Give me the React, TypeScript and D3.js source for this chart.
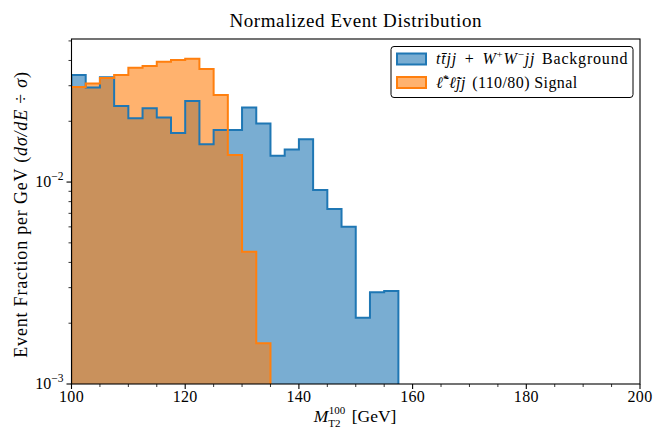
import * as d3 from "d3";

// bin left edges (GeV), bin width 2.5
const bgEdges = [100, 102.5, 105, 107.5, 110, 112.5, 115, 117.5, 120, 122.5, 125, 127.5, 130, 132.5, 135, 137.5, 140, 142.5, 145, 147.5, 150, 152.5, 155];
const bgValues = [0.0339, 0.0294, 0.033, 0.0238, 0.0207, 0.0232, 0.0209, 0.0175, 0.0252, 0.0154, 0.0181, 0.0181, 0.0234, 0.0195, 0.0135, 0.0145, 0.0163, 0.00913, 0.00735, 0.00601, 0.00213, 0.00285, 0.00289];
const sigEdges = [100, 102.5, 105, 107.5, 110, 112.5, 115, 117.5, 120, 122.5, 125, 127.5, 130, 132.5];
const sigValues = [0.0296, 0.0308, 0.0328, 0.0339, 0.0368, 0.0376, 0.0394, 0.0402, 0.0408, 0.0363, 0.027, 0.0136, 0.00452, 0.00159];
const binWidth = 2.5;

const xMajor = [100, 120, 140, 160, 180, 200];
const xMinor = [105, 110, 115, 125, 130, 135, 145, 150, 155, 165, 170, 175, 185, 190, 195];
const yMajor = [{ v: 0.001, exp: "−3" }, { v: 0.01, exp: "−2" }];
const yMinor = [0.002, 0.003, 0.004, 0.005, 0.006, 0.007, 0.008, 0.009, 0.02, 0.03, 0.04, 0.05];

const W = 664;
const H = 443;
const margin = { top: 39, right: 24, bottom: 59, left: 71.5 };
const FONT = "'Liberation Serif', 'Times New Roman', serif";

const BLUE = "#1f77b4";
const ORANGE = "#ff7f0e";

export default function App() {
    const x = d3.scaleLinear().domain([100, 200]).range([margin.left, W - margin.right]);
    const y = d3.scaleLog().domain([0.001, 0.0511]).range([H - margin.bottom, margin.top]);

    // step outline closed down to the axis floor
    const stepPoints = (edges: number[], values: number[]) => {
        const pts: [number, number][] = [[edges[0], 0.001]];
        edges.forEach((e, i) => pts.push([e, values[i]]));
        pts.push([edges[edges.length - 1] + binWidth, 0.001]);
        return pts;
    };

    const line = d3
        .line<[number, number]>()
        .x((d) => x(d[0]))
        .y((d) => y(d[1]))
        .curve(d3.curveStepAfter);

    const bgPath = line(stepPoints(bgEdges, bgValues)) || "";
    const sigPath = line(stepPoints(sigEdges, sigValues)) || "";

    const x0 = margin.left;
    const x1 = W - margin.right;
    const y0 = H - margin.bottom;
    const y1 = margin.top;
    const xc = (x0 + x1) / 2;

    return (
        <svg
            width={W}
            height={H}
            style={{ position: "absolute", left: 0, top: 0, background: "#fff" }}
            fontFamily={FONT}
        >
            <defs>
                <clipPath id="plot">
                    <rect x={x0} y={y1} width={x1 - x0} height={y0 - y1} />
                </clipPath>
            </defs>

            <text x={xc} y={26.7} textAnchor="middle" fontSize={19} letterSpacing={0.6}>
                Normalized Event Distribution
            </text>

            <g clipPath="url(#plot)">
                <path d={bgPath} fill={BLUE} fillOpacity={0.6} stroke="none" />
                <path d={sigPath} fill={ORANGE} fillOpacity={0.6} stroke="none" />
                <path d={bgPath} fill="none" stroke={BLUE} strokeWidth={2} />
                <path d={sigPath} fill="none" stroke={ORANGE} strokeWidth={2} />
            </g>

            {/* spines */}
            <rect x={x0} y={y1} width={x1 - x0} height={y0 - y1} fill="none" stroke="#000" strokeWidth={1.1} />

            {/* x ticks */}
            {xMajor.map((t) => (
                <g key={"xm" + t}>
                    <line x1={x(t)} x2={x(t)} y1={y0} y2={y0 + 5} stroke="#000" strokeWidth={1.1} />
                    <text x={x(t)} y={402} textAnchor="middle" fontSize={16} letterSpacing={0.3}>
                        {t}
                    </text>
                </g>
            ))}
            {xMinor.map((t) => (
                <line key={"xn" + t} x1={x(t)} x2={x(t)} y1={y0} y2={y0 + 3} stroke="#000" strokeWidth={0.8} />
            ))}

            {/* y ticks */}
            {yMajor.map((t) => (
                <g key={"ym" + t.v}>
                    <line x1={x0 - 5} x2={x0} y1={y(t.v)} y2={y(t.v)} stroke="#000" strokeWidth={1.1} />
                    <text x={x0 - 8} y={y(t.v) + 5} textAnchor="end" fontSize={16}>
                        10
                        <tspan dy={-7} fontSize={11.5}>
                            {t.exp}
                        </tspan>
                    </text>
                </g>
            ))}
            {yMinor.map((t) => (
                <line key={"yn" + t} x1={x0 - 3} x2={x0} y1={y(t)} y2={y(t)} stroke="#000" strokeWidth={0.8} />
            ))}

            {/* x label: M with stacked sub/superscript */}
            <text x={xc - 42} y={421.7} fontSize={17.5}>
                <tspan fontStyle="italic">M</tspan>
                <tspan fontSize={11} dy={5}>T2</tspan>
            </text>
            <text x={xc - 27} y={413.5} fontSize={11}>
                100
            </text>
            <text x={xc - 4} y={421.7} fontSize={17.5}>
                [GeV]
            </text>

            {/* y label */}
            <text
                transform={`translate(27, ${214.5}) rotate(-90)`}
                textAnchor="middle"
                fontSize={18}
                letterSpacing={0.8}
            >
                Event Fraction per GeV (<tspan fontStyle="italic">dσ/dE</tspan> ÷ <tspan fontStyle="italic">σ</tspan>)
            </text>

            {/* legend */}
            <g>
                <rect x={391} y={46.5} width={242} height={51} rx={3} fill="#fff" fillOpacity={0.8} stroke="#000" strokeWidth={1} />
                <rect x={397} y={53.5} width={29} height={11} fill={BLUE} fillOpacity={0.6} stroke={BLUE} strokeWidth={2} />
                <rect x={397} y={77} width={29} height={11} fill={ORANGE} fillOpacity={0.6} stroke={ORANGE} strokeWidth={2} />
                <text x={436} y={64} fontSize={16} letterSpacing={0.8}>
                    <tspan fontStyle="italic">tt̄jj</tspan>
                    <tspan dx={3}> + </tspan>
                    <tspan fontStyle="italic" dx={3}>W</tspan>
                    <tspan fontSize={11} dy={-6}>+</tspan>
                    <tspan fontStyle="italic" dy={6}>W</tspan>
                    <tspan fontSize={11} dy={-6}>−</tspan>
                    <tspan fontStyle="italic" dy={6}>jj</tspan>
                    <tspan dx={2}> Background</tspan>
                </text>
                <text x={436} y={87.5} fontSize={16} letterSpacing={0.4}>
                    <tspan fontStyle="italic">ℓ̃</tspan>
                    <tspan fontSize={11} dy={-6}>*</tspan>
                    <tspan fontStyle="italic" dy={6}>ℓ̃jj</tspan>
                    <tspan dx={2}> (110/80) Signal</tspan>
                </text>
            </g>
        </svg>
    );
}
